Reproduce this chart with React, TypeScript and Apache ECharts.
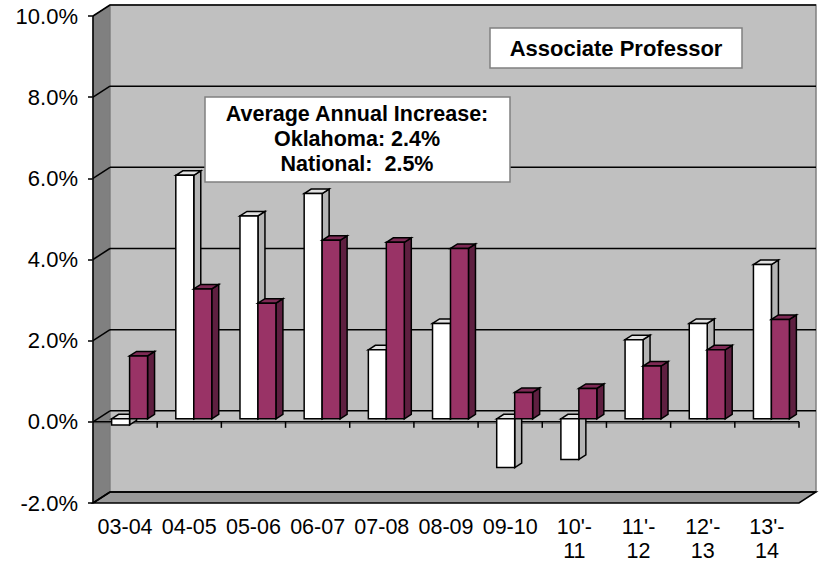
import React, { useEffect, useRef } from "react";
import * as echarts from "echarts";

const categories = ["03-04", "04-05", "05-06", "06-07", "07-08", "08-09", "09-10", "10'-\n11", "11'-\n12", "12'-\n13", "13'-\n14"];
const oklahoma = [-0.15, 6.0, 5.0, 5.55, 1.7, 2.35, -1.2, -1.0, 1.95, 2.35, 3.8];
const national = [1.55, 3.2, 2.85, 4.4, 4.35, 4.2, 0.65, 0.75, 1.3, 1.7, 2.45];
const yTickValues = [-2, 0, 2, 4, 6, 8, 10];
const chartTitle = "Associate Professor";
const noteLines = ["Average Annual Increase:", "Oklahoma: 2.4%", "National:  2.5%"];

const FONT = "'Liberation Sans', Arial, sans-serif";
const DX = 17;
const DY = -11;
const SX = 4.5;
const SY = -3;
const BDX = 7;
const BDY = -4.5;

function bgRender(params: any, api: any) {
  const cs = params.coordSys;
  const x0 = cs.x;
  const x1 = cs.x + cs.width;
  const yOf = (v: number) => api.coord([0, v])[1];
  const yTop = yOf(yTickValues[yTickValues.length - 1]);
  const yBot = yOf(yTickValues[0]);
  const yZ = yOf(0);
  const black = { stroke: "#000", lineWidth: 1.5, fill: null };
  const children: any[] = [];
  children.push({
    type: "polygon",
    shape: { points: [[x0, yTop], [x0 + DX, yTop + DY], [x0 + DX, yBot + DY], [x0, yBot]] },
    style: { fill: "#808080", stroke: "#606060", lineWidth: 1 },
  });
  children.push({
    type: "rect",
    shape: { x: x0 + DX, y: yTop + DY, width: x1 - x0, height: yBot - yTop },
    style: { fill: "#C0C0C0", stroke: "#808080", lineWidth: 1.5 },
  });
  children.push({
    type: "polygon",
    shape: { points: [[x0, yBot], [x0 + DX, yBot + DY], [x1 + DX, yBot + DY], [x1, yBot]] },
    style: { fill: "#999999", stroke: "#000", lineWidth: 1.5 },
  });
  for (const v of yTickValues) {
    const y = yOf(v);
    children.push({ type: "line", shape: { x1: x0 + DX, y1: y + DY, x2: x1 + DX, y2: y + DY }, style: black });
    children.push({ type: "line", shape: { x1: x0, y1: y, x2: x0 + DX, y2: y + DY }, style: black });
  }
  children.push({ type: "line", shape: { x1: x0, y1: yZ + 1.5, x2: x1, y2: yZ + 1.5 }, style: { stroke: "#707070", lineWidth: 1 } });
  children.push({ type: "line", shape: { x1: x0, y1: yZ, x2: x1, y2: yZ }, style: black });
  const cw = cs.width / categories.length;
  for (let i = 1; i <= categories.length; i++) {
    const x = x0 + cw * i;
    children.push({ type: "line", shape: { x1: x, y1: yZ, x2: x, y2: yZ + 6 }, style: black });
  }
  children.push({ type: "line", shape: { x1: x0, y1: yTop, x2: x0, y2: yBot }, style: black });
  return { type: "group", children };
}

function makeBarRender(side: number, front: string, top: string, sideCol: string) {
  return (params: any, api: any) => {
    const ci = api.value(0);
    const v = api.value(1);
    const cw = api.size([1, 0])[0];
    const p = api.coord([ci, v]);
    const z = api.coord([ci, 0]);
    const bw = cw * 0.28;
    const x = p[0] - bw + side * bw + SX;
    const yT = Math.min(p[1], z[1]) + SY;
    const yB = Math.max(p[1], z[1]) + SY;
    const st = { stroke: "#000", lineWidth: 1.5, lineJoin: "miter" };
    return {
      type: "group",
      children: [
        {
          type: "polygon",
          shape: { points: [[x + bw, yT], [x + bw + BDX, yT + BDY], [x + bw + BDX, yB + BDY], [x + bw, yB]] },
          style: { ...st, fill: sideCol },
        },
        {
          type: "polygon",
          shape: { points: [[x, yT], [x + BDX, yT + BDY], [x + bw + BDX, yT + BDY], [x + bw, yT]] },
          style: { ...st, fill: top },
        },
        {
          type: "rect",
          shape: { x, y: yT, width: bw, height: Math.max(yB - yT, 0.5) },
          style: { ...st, fill: front },
        },
      ],
    };
  };
}

export default function App() {
  const ref = useRef<HTMLDivElement>(null);
  useEffect(() => {
    if (!ref.current) return;
    const chart = echarts.init(ref.current, null, { renderer: "svg" });
    const boxText = (t: string, x: number, y: number, size: number) => ({
      type: "text",
      z: 101,
      x,
      y,
      style: { text: t, fontFamily: FONT, fontWeight: "bold", fontSize: size, fill: "#000", align: "center", verticalAlign: "middle" },
    });
    const option: any = {
      animation: false,
      backgroundColor: "#FFFFFF",
      grid: { left: 93, right: 22, top: 16, bottom: 63, outerBoundsMode: "none" },
      xAxis: {
        type: "category",
        data: categories,
        axisLine: { show: false, onZero: false },
        axisTick: { show: false },
        splitLine: { show: false },
        axisLabel: {
          interval: 0,
          margin: 12,
          fontFamily: FONT,
          fontSize: 21.5,
          lineHeight: 24,
          color: "#000",
        },
      },
      yAxis: {
        type: "value",
        min: -2,
        max: 10,
        interval: 2,
        axisLine: { show: false },
        axisTick: { show: true, inside: false, length: 5, lineStyle: { color: "#000", width: 1.5 } },
        splitLine: { show: false },
        axisLabel: {
          margin: 15,
          fontFamily: FONT,
          fontSize: 22,
          color: "#000",
          formatter: (v: number) => v.toFixed(1) + "%",
        },
      },
      series: [
        {
          type: "custom",
          name: "bg",
          z: 1,
          silent: true,
          renderItem: bgRender,
          data: [[0, 0]],
          encode: { x: 0, y: 1 },
        },
        {
          type: "custom",
          name: "Oklahoma",
          z: 3,
          renderItem: makeBarRender(0, "#FFFFFF", "#E2E2E2", "#B4B4B4"),
          data: oklahoma.map((v, i) => [i, v]),
          encode: { x: 0, y: 1 },
        },
        {
          type: "custom",
          name: "National",
          z: 4,
          renderItem: makeBarRender(1, "#993366", "#7E2A55", "#5E1F40"),
          data: national.map((v, i) => [i, v]),
          encode: { x: 0, y: 1 },
        },
      ],
      graphic: [
        { type: "rect", z: 100, shape: { x: 490, y: 28, width: 252, height: 40 }, style: { fill: "#fff", stroke: "#808080", lineWidth: 1.5 } },
        boxText(chartTitle, 616, 48, 22),
        { type: "rect", z: 100, shape: { x: 205, y: 97, width: 305, height: 85 }, style: { fill: "#fff", stroke: "#808080", lineWidth: 1.5 } },
        ...noteLines.map((t, i) => boxText(t, 357, 114 + i * 25, 21.5)),
      ],
    };
    chart.setOption(option);
    return () => chart.dispose();
  }, []);
  return <div ref={ref} style={{ position: "absolute", left: 0, top: 0, width: 821, height: 566 }} />;
}
